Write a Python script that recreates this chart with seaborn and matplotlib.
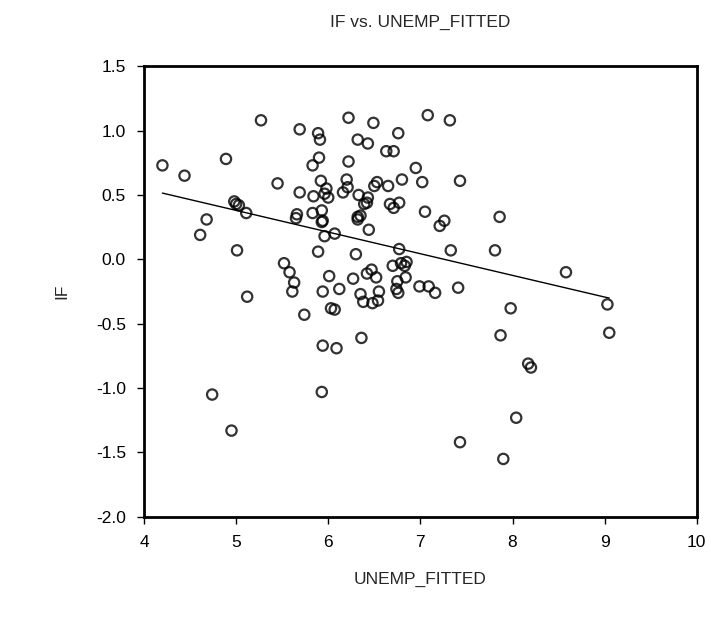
import numpy as np
import pandas as pd
import seaborn as sns
import matplotlib.pyplot as plt

# values
unemp_fitted = [
    4.20, 4.44, 4.89, 5.27, 4.98, 5.00, 5.03, 5.11, 4.68, 4.61,
    5.01, 5.12, 4.74, 4.95, 5.45, 5.52, 5.58, 5.63, 5.61, 5.74,
    5.69, 5.89, 5.91, 5.90, 5.83, 5.92, 5.98, 5.96, 6.00, 5.69,
    5.84, 5.66, 5.65, 5.83, 5.93, 5.94, 5.93, 6.07, 5.96, 5.89,
    6.01, 5.94, 6.12, 6.03, 6.07, 5.94, 6.09, 5.93,
    6.22, 6.49, 7.08, 7.32, 6.76, 6.32, 6.43, 6.63, 6.71, 6.22,
    6.95, 6.20, 6.21, 6.16, 6.53, 6.50, 6.65, 6.80, 7.02, 7.43,
    6.33, 6.43, 6.39, 6.42, 6.67, 6.71, 6.77, 7.05, 6.32, 6.35,
    6.32, 6.44, 7.26, 7.21, 7.86, 6.30, 6.77, 7.33, 7.81, 6.70,
    6.79, 6.85, 6.83, 6.47, 6.42, 6.52, 6.27, 6.75, 6.84, 6.99,
    7.09, 7.16, 7.41, 6.35, 6.55, 6.38, 6.48, 6.54, 6.74, 6.76,
    6.36, 7.98, 7.87, 8.17, 8.20, 8.04, 7.43, 7.90, 9.03, 9.05,
    8.58,
]
if_values = [
    0.73, 0.65, 0.78, 1.08, 0.45, 0.43, 0.42, 0.36, 0.31, 0.19,
    0.07, -0.29, -1.05, -1.33, 0.59, -0.03, -0.10, -0.18, -0.25, -0.43,
    1.01, 0.98, 0.93, 0.79, 0.73, 0.61, 0.55, 0.51, 0.48, 0.52,
    0.49, 0.35, 0.32, 0.36, 0.38, 0.30, 0.29, 0.20, 0.18, 0.06,
    -0.13, -0.25, -0.23, -0.38, -0.39, -0.67, -0.69, -1.03,
    1.10, 1.06, 1.12, 1.08, 0.98, 0.93, 0.90, 0.84, 0.84, 0.76,
    0.71, 0.62, 0.56, 0.52, 0.60, 0.57, 0.57, 0.62, 0.60, 0.61,
    0.50, 0.48, 0.43, 0.44, 0.43, 0.40, 0.44, 0.37, 0.33, 0.34,
    0.31, 0.23, 0.30, 0.26, 0.33, 0.04, 0.08, 0.07, 0.07, -0.05,
    -0.03, -0.02, -0.05, -0.08, -0.11, -0.14, -0.15, -0.17, -0.14, -0.21,
    -0.21, -0.26, -0.22, -0.27, -0.25, -0.33, -0.34, -0.32, -0.23, -0.26,
    -0.61, -0.38, -0.59, -0.81, -0.84, -1.23, -1.42, -1.55, -0.35, -0.57,
    -0.10,
]
x_ticks = [4, 5, 6, 7, 8, 9, 10]
y_ticks = [-2.0, -1.5, -1.0, -0.5, 0.0, 0.5, 1.0, 1.5]

df = pd.DataFrame({'UNEMP_FITTED': unemp_fitted, 'IF': if_values})

sns.set_style('ticks')
plt.rcParams['font.family'] = ['Liberation Sans', 'DejaVu Sans']

fig = plt.figure(figsize=(7.11, 6.19), dpi=100)
ax = fig.add_axes([0.2025, 0.165, 0.7775, 0.728])

sns.regplot(data=df, x='UNEMP_FITTED', y='IF', ax=ax, ci=None,
            marker='o',
            scatter_kws={'s': 55, 'facecolors': 'none', 'edgecolors': 'black', 'linewidths': 1.6},
            line_kws={'color': 'black', 'linewidth': 1.0})

ax.set_xlim(4, 10)
ax.set_ylim(-2.0, 1.5)
ax.set_xticks(x_ticks)
ax.set_xticklabels([str(t) for t in x_ticks])
ax.set_yticks(y_ticks)
ax.set_yticklabels([f'{t:.1f}' for t in y_ticks])
ax.tick_params(axis='both', direction='out', length=5, width=1, labelsize=12.5, colors='black', pad=8)

for side in ['top', 'right', 'bottom', 'left']:
    ax.spines[side].set_visible(True)
    ax.spines[side].set_linewidth(2)
    ax.spines[side].set_color('black')

ax.set_title('IF vs. UNEMP_FITTED', fontsize=12.5, pad=28)
ax.set_xlabel('UNEMP_FITTED', fontsize=12.5, labelpad=16)
ax.set_ylabel('IF', fontsize=12.5, labelpad=19)

plt.savefig('out.png', dpi=100)
plt.close()
